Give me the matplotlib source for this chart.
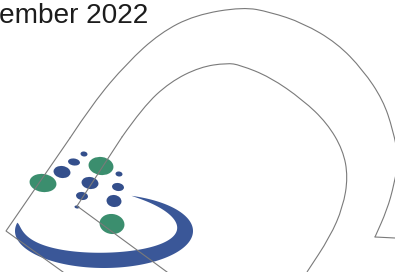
import numpy as np
import matplotlib
matplotlib.use("Agg")
import matplotlib.pyplot as plt
from matplotlib.path import Path
from matplotlib.patches import PathPatch, Ellipse, Polygon

# page fragment: date heading
heading = "ember 2022"

# outline strokes of the big arch (pixel coords, y down)
outer_edge = [(63, 272), (6, 231), (70, 138)]
outer_arc = [(70, 138), (93, 103), (127, 63), (160, 33), (195, 15), (243, 7),
             (270, 12), (303, 23), (337, 43), (363, 70), (383, 100),
             (393, 130), (399, 160)]
inner_edge = [(167, 272), (77, 206), (122, 137)]
inner_arc = [(122, 137), (143, 107), (170, 82), (200, 67), (227, 63),
             (240, 65), (270, 77), (303, 100), (327, 123), (343, 150),
             (348, 177), (343, 207), (330, 237), (307, 272)]
right_arc = [(399, 160), (394, 185), (387, 210), (375, 237)]
right_edge = [(375, 237), (395, 238)]

# logo dots: centre x, centre y, width, height, colour
dot_x = [43, 101, 112, 84, 74, 62, 90, 119, 118, 82, 114, 77]
dot_y = [183, 166, 224, 154, 162, 172, 183, 174, 187, 196, 201, 207]
dot_w = [27, 25, 25, 7, 12, 17, 17, 7, 12, 12, 15, 5]
dot_h = [18, 18, 20, 5, 7, 12, 12, 5, 8, 8, 12, 3]
dot_c = ["g", "g", "g", "b", "b", "b", "b", "b", "b", "b", "b", "b"]

GREEN = "#3b8e6e"
BLUE = "#344f8c"
SWOOSH = "#3a5798"
LINE = "#7a7a7a"


def smooth(pts):
    pts = np.asarray(pts, float)
    verts = [pts[0]]
    codes = [Path.MOVETO]
    for i in range(1, len(pts) - 1):
        verts += [pts[i], (pts[i] + pts[i + 1]) / 2]
        codes += [Path.CURVE3, Path.CURVE3]
    verts.append(pts[-1])
    codes.append(Path.LINETO)
    return Path(verts, codes)


fig = plt.figure(figsize=(3.95, 2.72), dpi=100)
ax = fig.add_axes([0, 0, 1, 1])
ax.set_xlim(0, 395)
ax.set_ylim(272, 0)
ax.axis("off")

# swoosh under the dots
cx, cy, a, b = 104, 231, 89, 37
t = np.radians(np.linspace(193, -72, 200))
s = np.linspace(0, 1, 200)
prof = s ** 0.7 * (1 - s) ** 0.9
w = 22 * prof / prof.max()
ox = cx + a * np.cos(t)
oy = cy + b * np.sin(t)
ix = cx + (a - w) * np.cos(t)
iy = cy + (b - 0.7 * w) * np.sin(t)
poly = np.column_stack([np.r_[ox, ix[::-1]], np.r_[oy, iy[::-1]]])
ax.add_patch(Polygon(poly, closed=True, facecolor=SWOOSH, edgecolor="none"))

for x, y, dw, dh, c in zip(dot_x, dot_y, dot_w, dot_h, dot_c):
    ax.add_patch(Ellipse((x, y), dw, dh, angle=8,
                         facecolor=GREEN if c == "g" else BLUE,
                         edgecolor="none"))

for seg in [outer_edge, inner_edge, right_edge]:
    xs, ys = zip(*seg)
    ax.plot(xs, ys, color=LINE, lw=0.8, solid_joinstyle="miter")
for arc in [outer_arc, inner_arc, right_arc]:
    ax.add_patch(PathPatch(smooth(arc), facecolor="none", edgecolor=LINE,
                           lw=0.8))

ax.text(148, 23, heading, ha="right", va="baseline", fontsize=20.2,
        family="Liberation Sans", color="#1c1c1c")

fig.savefig("out.png", dpi=100)
